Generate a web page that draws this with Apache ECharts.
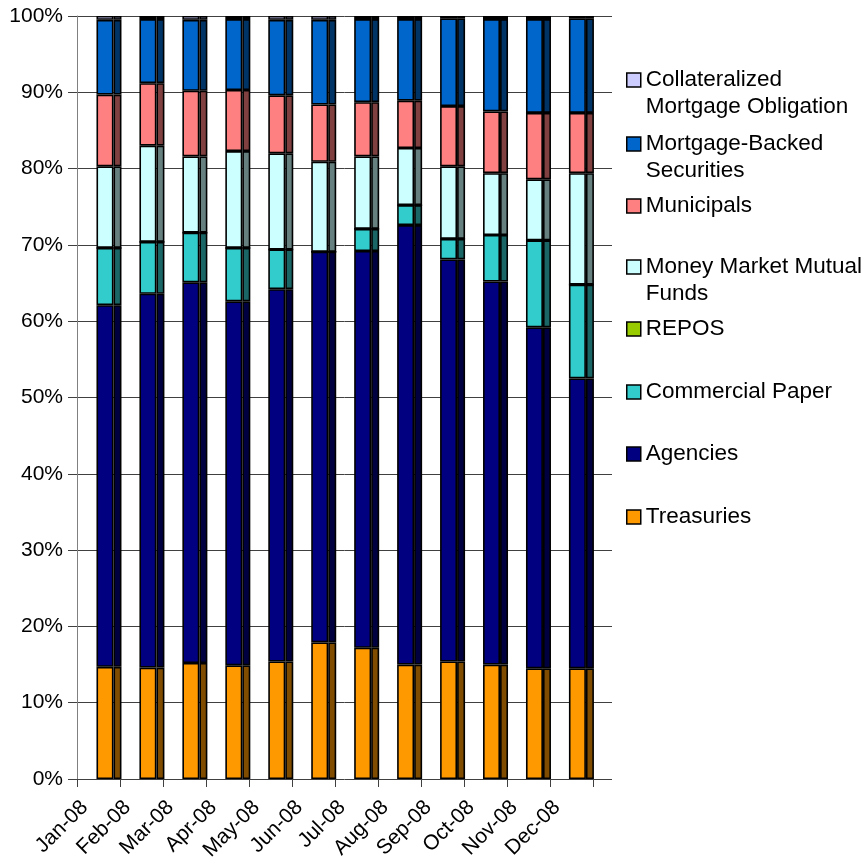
<!DOCTYPE html>
<html>
<head>
<meta charset="utf-8">
<script src="https://cdn.jsdelivr.net/npm/echarts@6/dist/echarts.min.js"></script>
<style>
html,body{margin:0;padding:0;background:#fff;}
#chart{width:867px;height:865px;}
</style>
</head>
<body>
<div id="chart"></div>
<script>
const months = ['Jan-08','Feb-08','Mar-08','Apr-08','May-08','Jun-08','Jul-08','Aug-08','Sep-08','Oct-08','Nov-08','Dec-08'];
const yTicks = [0,10,20,30,40,50,60,70,80,90,100];
const treasuries      = [14.7,14.6,15.2,14.9,15.4,17.9,17.2,15.0,15.4,15.0,14.5,14.5];
const agencies        = [47.4,49.0,49.9,47.7,48.8,51.2,52.0,57.6,52.7,50.2,44.7,38.0];
const commercialPaper = [7.5,6.8,6.5,7.0,5.2,0,2.9,2.6,2.7,6.1,11.4,12.3];
const repos           = [0,0,0,0,0,0,0,0,0,0,0,0];
const moneyMarket     = [10.7,12.6,10.0,12.7,12.6,11.8,9.5,7.5,9.5,8.1,8.0,14.6];
const municipals      = [9.4,8.2,8.6,8.0,7.6,7.5,7.1,6.2,7.9,8.1,8.7,7.9];
const mbs             = [9.8,8.4,9.3,9.3,9.9,11.1,10.9,10.7,11.5,12.1,12.3,12.4];
const cmo             = [0.5,0.4,0.5,0.4,0.5,0.5,0.4,0.4,0.3,0.4,0.4,0.3];

const seriesDefs = [
  {name:'Treasuries', data:treasuries, front:'#FF9900', side:'#7F4C00'},
  {name:'Agencies', data:agencies, front:'#000080', side:'#000040'},
  {name:'Commercial Paper', data:commercialPaper, front:'#33CCCC', side:'#1A6666'},
  {name:'REPOS', data:repos, front:'#99CC00', side:'#4C6600'},
  {name:'Money Market Mutual Funds', data:moneyMarket, front:'#CCFFFF', side:'#668080'},
  {name:'Municipals', data:municipals, front:'#FF8080', side:'#804040'},
  {name:'Mortgage-Backed Securities', data:mbs, front:'#0066CC', side:'#003366'},
  {name:'Collateralized Mortgage Obligation', data:cmo, front:'#CCCCFF', side:'#666680'}
];
const legendLabels = {
  'Collateralized Mortgage Obligation':'Collateralized\nMortgage Obligation',
  'Mortgage-Backed Securities':'Mortgage-Backed\nSecurities',
  'Money Market Mutual Funds':'Money Market Mutual\nFunds'
};
const legendOrder = ['Collateralized Mortgage Obligation','Mortgage-Backed Securities','Municipals','Money Market Mutual Funds','REPOS','Commercial Paper','Agencies','Treasuries'];
const legendCenters = [80,144,206,267,329,392,454,517];

const FONT = 'Liberation Sans, Arial, sans-serif';
const TOP = 16, BOTTOM = 865-779;
const LH = 26.7;

const series = [];
seriesDefs.forEach(d => {
  series.push({
    name:d.name, type:'bar', xAxisIndex:2, yAxisIndex:2, stack:'front',
    barWidth:17, barGap:'0%', data:d.data,
    itemStyle:{color:d.front, borderColor:'#000', borderWidth:1.6},
    emphasis:{disabled:true}
  });
});
seriesDefs.forEach(d => {
  series.push({
    name:d.name, type:'bar', xAxisIndex:2, yAxisIndex:2, stack:'side',
    barWidth:8, barGap:'0%', data:d.data,
    itemStyle:{color:d.side, borderColor:'#000', borderWidth:1.6},
    emphasis:{disabled:true}
  });
});

// Two-line legend entries: a blank first line keeps the icon level with the text's first line.
const legends = legendOrder.map((name,i) => {
  const twoLine = !!legendLabels[name];
  return {
    data:[name], orient:'vertical', left:626,
    top: legendCenters[i] - (twoLine ? 1.5*LH : LH/2),
    padding:0, icon:'rect', itemWidth:14, itemHeight:14, itemGap:0,
    itemStyle:{borderColor:'#000', borderWidth:1.5},
    formatter: n => legendLabels[n] ? ' \n' + legendLabels[n] : n,
    textStyle:{fontFamily:FONT, fontSize:22.5, color:'#000', lineHeight:LH}
  };
});

const option = {
  backgroundColor:'#fff',
  animation:false,
  legend: legends,
  grid:[
    {left:77, right:867-612, top:TOP, bottom:BOTTOM},
    {left:77.5, width:515.4, top:TOP, bottom:BOTTOM},
    {left:87.5, width:515.4, top:TOP, bottom:BOTTOM}
  ],
  xAxis:[
    {gridIndex:0, type:'category', data:months, show:false},
    {gridIndex:1, type:'category', data:months.concat(['']), boundaryGap:false,
      axisLine:{show:false},
      axisTick:{show:true, interval:0, length:8, lineStyle:{color:'#404040'}},
      axisLabel:{interval:0, rotate:45, margin:18, verticalAlign:'top', lineHeight:20,
        fontFamily:FONT, fontSize:21, color:'#000'}
    },
    {gridIndex:2, type:'category', data:months, show:false}
  ],
  yAxis:[
    {gridIndex:0, type:'value', min:yTicks[0], max:yTicks[yTicks.length-1], interval:10,
      axisLine:{show:true, lineStyle:{color:'#808080'}},
      axisTick:{show:true, length:9, lineStyle:{color:'#404040'}},
      axisLabel:{formatter:'{value}%', margin:14, fontFamily:FONT, fontSize:21, color:'#000'},
      splitLine:{show:true, lineStyle:{color:'#404040', width:1}}
    },
    {gridIndex:1, type:'value', min:0, max:100, show:false},
    {gridIndex:2, type:'value', min:0, max:100, show:false}
  ],
  series: series
};
const chart = echarts.init(document.getElementById('chart'), null, {renderer:'canvas'});
chart.setOption(option);
</script>
</body>
</html>
